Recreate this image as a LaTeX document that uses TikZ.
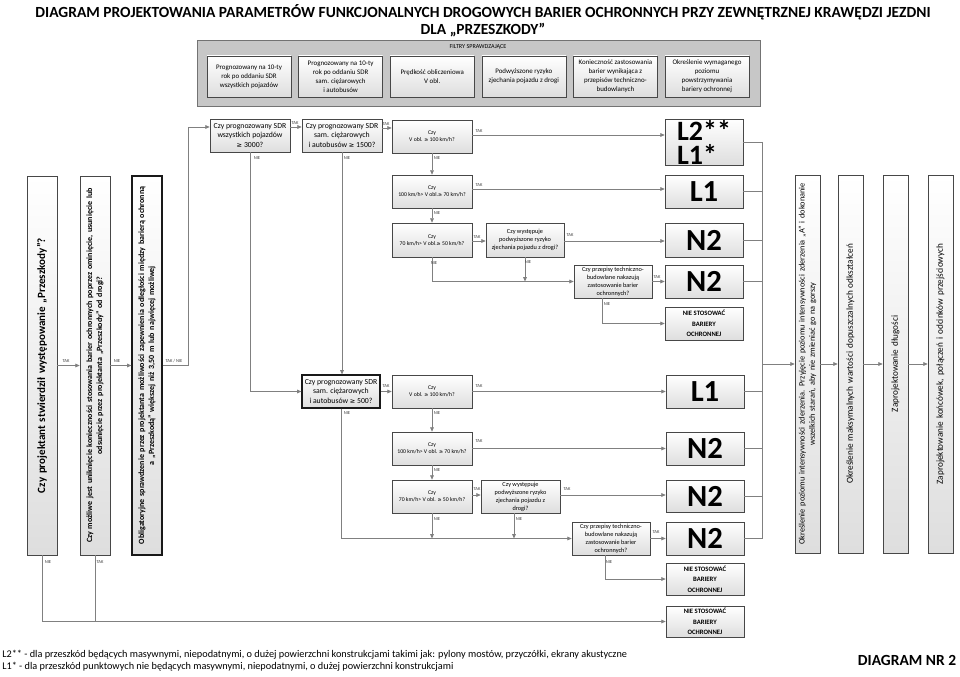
\documentclass[tikz,border=0pt]{standalone}
\usepackage{fontspec}
\setmainfont{Carlito}
\newfontfamily\djv{DejaVu Sans}
\usetikzlibrary{arrows.meta,calc}
\newcommand\fs[2]{\fontsize{#1}{#2}\selectfont}
\newcommand\GE{{\djv\scalebox{0.85}{≥}}}
\newcommand\BX[6]{\node[#1,minimum width={(#5-#3)*0.75pt},minimum height={(#6-#4)*0.75pt}] (#2) at ({(#3+#5)/2},{(#4+#6)/2})}
\newcommand\VB[6]{\node[#1,rotate=90,text width={(#6-#4-6)*0.75pt},minimum width={(#6-#4)*0.75pt},minimum height={(#5-#3)*0.75pt}] (#2) at ({(#3+#5)/2},{(#4+#6)/2})}
\begin{document}
\begin{tikzpicture}[x=0.75pt,y=-0.75pt,
  box/.style={draw=black!72, line width=0.45pt, top color=white, bottom color=black!13, inner sep=0.5pt, align=center, text=black},
  fbox/.style={box, font=\fs{5.2}{6.8}},
  qbox/.style={box, font=\fs{5.8}{7}},
  qthick/.style={qbox, draw=black!90, line width=0.9pt},
  sbox/.style={box, font=\fs{4.3}{5.4}},
  mbox/.style={box, font=\fs{4.7}{6}},
  res/.style={box, font=\bfseries\fs{23}{15.5}},
  niebox/.style={box, font=\bfseries\fs{5}{8}},
  vboxA/.style={box, font=\bfseries\fs{8.3}{9}},
  vboxB/.style={box, font=\bfseries\fs{6}{7.6}},
  vboxC/.style={vboxB, draw=black!90, line width=0.9pt},
  vboxR/.style={box, font=\fs{6.9}{8}},
  vboxK/.style={box, font=\fs{6.2}{7.8}},
  conn/.style={draw=black!50, line width=0.6pt},
  arr/.style={conn, -{Triangle[length=3.3pt,width=2.8pt]}},
  lab/.style={font=\fs{3.4}{4}, text=black!75, inner sep=0pt}
]
\useasboundingbox (0,0) rectangle (960,677);
\fill[white] (0,0) rectangle (960,677);

% title
\node[font=\bfseries\fs{11.6}{14}, inner sep=0pt] (title1) at (483,12) {DIAGRAM PROJEKTOWANIA PARAMETRÓW FUNKCJONALNYCH DROGOWYCH BARIER OCHRONNYCH PRZY ZEWNĘTRZNEJ KRAWĘDZI JEZDNI};
\node[font=\bfseries\fs{11.6}{14}, inner sep=0pt] (title2) at (483,30) {DLA „PRZESZKODY”};

% filters
\BX{draw=black!55, fill=black!22, line width=0.6pt}{filt}{197}{40}{760}{106}{};
\node[font=\fs{4.6}{5}, inner sep=0pt] (filtt) at (478,47) {FILTRY SPRAWDZAJĄCE};
\BX{fbox}{f1}{207}{56}{291}{97}{Prognozowany na 10-ty\\rok po oddaniu SDR\\wszystkich pojazdów};
\BX{fbox}{f2}{298.6}{56}{382.6}{97}{Prognozowany na 10-ty\\rok po oddaniu SDR\\sam. ciężarowych\\i autobusów};
\BX{fbox}{f3}{390.2}{56}{474.2}{97}{Prędkość obliczeniowa\\V obl.};
\BX{fbox}{f4}{481.8}{56}{565.8}{97}{Podwyższone ryzyko\\zjechania pojazdu z drogi};
\BX{fbox}{f5}{573.4}{56}{657.4}{97}{Konieczność zastosowania\\barier wynikająca z\\przepisów techniczno-\\budowlanych};
\BX{fbox}{f6}{665}{56}{749}{97}{Określenie wymaganego\\poziomu\\powstrzymywania\\bariery ochronnej};

% left vertical boxes
\VB{vboxA}{A}{27}{176}{57}{555}{Czy projektant stwierdził występowanie „Przeszkody”?};
\VB{vboxB}{B}{80}{176}{110}{555}{Czy możliwe jest uniknięcie konieczności stosowania barier ochronnych poprzez ominięcie, usunięcie lub\\odsunięcie przez projektanta „Przeszkody” od drogi?};
\VB{vboxC}{C}{132}{176}{162}{555}{Obligatoryjne sprawdzenie przez projektanta możliwości zapewnienia odległości między barierą ochronną\\a „Przeszkodą” większej niż 3,50 m lub najwięcej możliwej};

% right vertical boxes
\VB{vboxK}{K}{795}{175}{820}{553}{Określenie poziomu intensywności zderzenia. Przyjęcie poziomu intensywności zderzenia „A” i dokonanie\\wszelkich starań, aby nie zmieniać go na gorszy};
\VB{vboxR}{L}{838}{175}{863}{553}{Określenie maksymalnych wartości dopuszczalnych odkształceń};
\VB{vboxR}{M}{883}{175}{908}{553}{Zaprojektowanie długości};
\VB{vboxR}{N}{928}{175}{953}{553}{Zaprojektowanie końcówek, połączeń i odcinków przejściowych};

% upper decision boxes
\BX{qbox}{D}{210}{119}{290}{152}{Czy prognozowany SDR\\wszystkich pojazdów\\\GE\ 3000?};
\BX{qbox}{E}{302}{119}{382}{152}{Czy prognozowany SDR\\sam. ciężarowych\\i autobusów \GE\ 1500?};
\BX{sbox}{F}{392}{120}{472}{153}{Czy\\V obl. \GE\ 100 km/h?};
\BX{sbox}{G}{392}{175}{472}{208}{Czy\\100 km/h> V obl.\GE\ 70 km/h?};
\BX{sbox}{H}{392}{223}{472}{257}{Czy\\70 km/h> V obl.\GE\ 50 km/h?};
\BX{mbox}{I}{486}{223}{564}{257}{Czy występuje\\podwyższone ryzyko\\zjechania pojazdu z drogi?};
\BX{mbox}{J}{574}{265}{652}{298}{Czy przepisy techniczno-\\budowlane nakazują\\zastosowanie barier\\ochronnych?};

% lower decision boxes
\BX{qthick}{O}{302}{375}{380}{408}{Czy prognozowany SDR\\sam. ciężarowych\\i autobusów \GE\ 500?};
\BX{sbox}{P}{392}{375}{472}{408}{Czy\\V obl. \GE\ 100 km/h?};
\BX{sbox}{Q}{392}{432}{472}{465}{Czy\\100 km/h> V obl. \GE\ 70 km/h?};
\BX{sbox}{R}{392}{480}{472}{513}{Czy\\70 km/h> V obl. \GE\ 50 km/h?};
\BX{mbox}{S}{481}{480}{560}{513}{Czy występuje\\podwyższone ryzyko\\zjechania pojazdu z\\drogi?};
\BX{mbox}{T}{572}{522}{650}{555}{Czy przepisy techniczno-\\budowlane nakazują\\zastosowanie barier\\ochronnych?};

% results
\BX{res, align=left, font=\bfseries\fs{21}{18}, inner sep=0pt}{RA}{665}{119}{743}{165}{L2**\\L1*};
\BX{res}{RB}{665}{175}{743}{208}{L1};
\BX{res}{RC}{665}{223}{743}{257}{N2};
\BX{res}{RD}{665}{265}{743}{298}{N2};
\BX{niebox}{NSa}{665}{307}{743}{340}{NIE STOSOWAĆ\\BARIERY\\OCHRONNEJ};
\BX{res}{RE}{666}{375}{744}{408}{L1};
\BX{res}{RF}{666}{432}{744}{465}{N2};
\BX{res}{RG}{666}{480}{744}{512}{N2};
\BX{res}{RH}{666}{522}{744}{555}{N2};
\BX{niebox}{NSb}{666}{563}{744}{595}{NIE STOSOWAĆ\\BARIERY\\OCHRONNEJ};
\BX{niebox}{NSc}{666}{606}{744}{637}{NIE STOSOWAĆ\\BARIERY\\OCHRONNEJ};

% left chain connectors
\draw[arr] (A.south) -- (B.north);
\draw[arr] (B.south) -- (C.north);
\draw[arr] (C.south) -- ++(26,0) |- (D.west |- 0,127);
\draw[arr] (A.west) |- (NSc.west);
\draw[conn] (B.west) -- (B.west |- NSc.west);

% upper connectors
\draw[arr] (D.east |- 0,127) -- (E.west |- 0,127);
\draw[arr] (E.east |- 0,128) -- (F.west |- 0,128);
\draw[arr] (F.east |- 0,135) -- (RA.west |- 0,135);
\draw[arr] (F.south) -- (G.north);
\draw[arr] (G.east |- 0,189) -- (RB.west |- 0,189);
\draw[arr] (G.south) -- (H.north);
\draw[arr] (H.east |- 0,241) -- (I.west |- 0,241);
\draw[arr] (I.east |- 0,241) -- (RC.west |- 0,241);
\draw[arr] (H.south) |- (J.west);
\draw[arr] (I.south) -- (I.south |- J.west);
\draw[arr] (J.east) -- (RD.west);
\draw[arr] (J.south -| 602,0) |- (NSa.west);

% lower connectors
\draw[arr] (D.south) |- (O.west);
\draw[arr] (E.south) -- (E.south |- O.north);
\draw[arr] (O.east) -- (P.west);
\draw[arr] (P.east) -- (RE.west);
\draw[arr] (P.south) -- (Q.north);
\draw[arr] (Q.east) -- (RF.west);
\draw[arr] (Q.south) -- (R.north);
\draw[arr] (R.east |- 0,495) -- (S.west |- 0,495);
\draw[arr] (S.east |- 0,495) -- (RG.west |- 0,495);
\draw[arr] (O.south) |- (T.west);
\draw[arr] (R.south) -- (R.south |- T.west);
\draw[arr] (S.south -| 514,0) -- (T.west -| 514,0);
\draw[arr] (T.east) -- (RH.west);
\draw[arr] (T.south -| 605,0) |- (NSb.west);

% bus to the right
\coordinate (bt) at (762,142);
\coordinate (bb) at (762,538.5);
\draw[conn] (bt) -- (bb);
\foreach \r in {RA,RB,RC,RD,RE,RF,RG,RH}{\draw[conn] (\r.east) -- (\r.east -| bt);}
\draw[arr] (K.north -| bt) -- (K.north);
\draw[arr] (K.south) -- (L.north);
\draw[arr] (L.south) -- (M.north);
\draw[arr] (M.south) -- (N.north);

% labels
\node[lab] (t1) at (66,361) {TAK};
\node[lab] (t2) at (117,361) {NIE};
\node[lab] (t3) at (174,361) {TAK / NIE};
\node[lab] (t4) at (295,123) {TAK};
\node[lab] (t5) at (386,124) {TAK};
\node[lab] (t6) at (479,131) {TAK};
\node[lab] (t7) at (437,158) {NIE};
\node[lab] (t8) at (479,185) {TAK};
\node[lab] (t9) at (437,213) {NIE};
\node[lab] (t10) at (477,237) {TAK};
\node[lab] (t11) at (570,235) {TAK};
\node[lab] (t12) at (434,263) {NIE};
\node[lab] (t13) at (528,262) {NIE};
\node[lab] (t14) at (657,277) {TAK};
\node[lab] (t15) at (607,304) {NIE};
\node[lab] (t16) at (257,158) {NIE};
\node[lab] (t17) at (347,158) {NIE};
\node[lab] (t18) at (386,386) {TAK};
\node[lab] (t19) at (479,386) {TAK};
\node[lab] (t20) at (347,413) {NIE};
\node[lab] (t21) at (437,413) {NIE};
\node[lab] (t22) at (479,441) {TAK};
\node[lab] (t23) at (437,470) {NIE};
\node[lab] (t24) at (477,489) {TAK};
\node[lab] (t25) at (567,489) {TAK};
\node[lab] (t26) at (437,519) {NIE};
\node[lab] (t27) at (519,519) {NIE};
\node[lab] (t28) at (656,532) {TAK};
\node[lab] (t29) at (609,562) {NIE};
\node[lab] (t30) at (48,562) {NIE};
\node[lab] (t31) at (100,562) {TAK};

% legend
\node[anchor=west, font=\fs{7.7}{9}, inner sep=0pt] (leg1) at (2,655) {L2** - dla przeszkód będących masywnymi, niepodatnymi, o dużej powierzchni konstrukcjami takimi jak: pylony mostów, przyczółki, ekrany akustyczne};
\node[anchor=west, font=\fs{7.7}{9}, inner sep=0pt] (leg2) at (2,667) {L1* - dla przeszkód punktowych nie będących masywnymi, niepodatnymi, o dużej powierzchni konstrukcjami};
\node[font=\bfseries\fs{11.6}{13}, inner sep=0pt] (dnr) at (907,660) {DIAGRAM NR 2};
\end{tikzpicture}
\end{document}
